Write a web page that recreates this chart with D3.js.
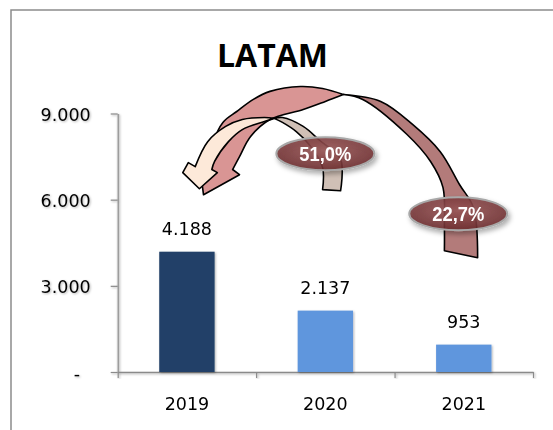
<!DOCTYPE html>
<html><head><meta charset="utf-8">
<script src="https://cdn.jsdelivr.net/npm/d3@7"></script>
<style>html,body{margin:0;padding:0;background:#fff;} svg{display:block;}</style>
</head><body>
<svg id="chart" width="553" height="430"></svg>
<script>
// ---------- data ----------
const chartTitle = "LATAM";
const years = ["2019", "2020", "2021"];
const values = [4188, 2137, 953];
const barColors = ["#213f68", "#5f96dd", "#5f96dd"];
const yTicks = [0, 3000, 6000, 9000];
const growthLabels = ["51,0%", "22,7%"];
// label anchors in data space: [category index, value]
const growthAnchors = [[1.0, 7600], [1.96, 5510]];

// curved arrow outlines in data space [category index, value]
const pinkTwist = [1.13, 9660];
const pinkLeft = [
  {smooth: true, pts: [pinkTwist, [0.98, 9870], [0.82, 9940], [0.60, 9770], [0.48, 9490], [0.36, 9070], [0.26, 8690], [0.19, 7990], [0.17, 7470]]},
  {smooth: false, pts: [[0.17, 7470], [0.09, 7290], [0.12, 6170], [0.38, 6870], [0.33, 7050]]},
  {smooth: true, pts: [[0.33, 7050], [0.38, 7500], [0.46, 8200], [0.60, 8790], [0.84, 9140], [1.00, 9420], pinkTwist]}
];
const pinkRight = [
  {smooth: true, pts: [pinkTwist, [1.40, 9420], [1.63, 8620], [1.83, 7670], [1.97, 6520], [2.07, 5720], [2.10, 3980]]},
  {smooth: false, pts: [[2.10, 3980], [1.86, 4220]]},
  {smooth: true, pts: [[1.86, 4220], [1.86, 5130], [1.85, 6420], [1.76, 7330], [1.59, 8270], [1.27, 9490], pinkTwist]}
];
const beigeTwist = [0.63, 8830];
const beigeLeft = [
  {smooth: true, pts: [beigeTwist, [0.56, 8860], [0.40, 8790], [0.28, 8550], [0.15, 8020], [0.06, 7150]]},
  {smooth: false, pts: [[0.06, 7150], [0.01, 7290], [-0.03, 6940], [0.09, 6380], [0.22, 6940], [0.18, 7050]]},
  {smooth: true, pts: [[0.18, 7050], [0.20, 7330], [0.30, 8020], [0.40, 8440], [0.56, 8720], beigeTwist]}
];
const beigeRight = [
  {smooth: true, pts: [beigeTwist, [0.69, 8860], [0.84, 8550], [0.96, 8060], [1.11, 7400], [1.11, 6310]]},
  {smooth: false, pts: [[1.11, 6310], [0.98, 6350]]},
  {smooth: true, pts: [[0.98, 6350], [0.98, 7120], [0.89, 7880], [0.79, 8370], [0.69, 8690], beigeTwist]}
];

// ---------- layout ----------
const svg = d3.select("#chart");
const plotLeft = 117.7, plotRight = 533, plotTop = 113.5, plotBottom = 372;
const axisFont = "'DejaVu Sans', sans-serif";

const x = d3.scaleBand().domain(years).range([plotLeft, plotRight]).paddingInner(0.6).paddingOuter(0.3);
const xi = d3.scaleLinear().domain([-0.5, 2.5]).range([plotLeft, plotRight]);
const y = d3.scaleLinear().domain([0, 9000]).range([plotBottom, plotTop]);

const defs = svg.append("defs");
const shadow = defs.append("filter").attr("id", "shadow").attr("x", "-30%").attr("y", "-30%").attr("width", "160%").attr("height", "160%");
shadow.append("feDropShadow").attr("dx", 2).attr("dy", 3).attr("stdDeviation", 2.5).attr("flood-color", "#000").attr("flood-opacity", 0.35);
const soft = defs.append("filter").attr("id", "soft").attr("x", "-10%").attr("y", "-10%").attr("width", "120%").attr("height", "120%");
soft.append("feDropShadow").attr("dx", 1).attr("dy", 1).attr("stdDeviation", 1).attr("flood-color", "#000").attr("flood-opacity", 0.3);
const rg = defs.append("radialGradient").attr("id", "lblGrad").attr("cx", "50%").attr("cy", "40%").attr("r", "60%");
rg.append("stop").attr("offset", "0%").attr("stop-color", "#9a5858");
rg.append("stop").attr("offset", "100%").attr("stop-color", "#6c2c2e");

// frame
svg.append("path").attr("d", d3.line()([[11, 430], [11, 10], [553, 10]]))
  .attr("fill", "none").attr("stroke", "#8c8c8c").attr("stroke-width", 1.5);

// title
svg.append("text").attr("x", 272.5).attr("y", 67).attr("text-anchor", "middle")
  .attr("font-family", "'Open Sans', sans-serif").attr("font-weight", 700).attr("font-size", 32)
  .attr("fill", "#000").text(chartTitle);

// y axis
const fmt = d => d === 0 ? "-" : d3.format(",")(d).replace(/,/g, ".");
const gy = svg.append("g").attr("transform", `translate(${plotLeft},0)`).attr("filter", "url(#soft)")
  .call(d3.axisLeft(y).tickValues(yTicks).tickSize(7).tickSizeOuter(0).tickPadding(20).tickFormat(fmt));
gy.select(".domain").attr("stroke", "#8a8a8a").attr("stroke-width", 1.5);
gy.selectAll(".tick line").attr("stroke", "#8a8a8a").attr("stroke-width", 1.2);
gy.selectAll(".tick text").attr("font-family", axisFont).attr("font-size", 17.5).attr("fill", "#000")
  .attr("dy", null).attr("y", 7)
  .attr("x", d => d === 0 ? -37.7 : -27);

// x axis
const gx = svg.append("g").attr("transform", `translate(0,${plotBottom})`).attr("filter", "url(#soft)")
  .call(d3.axisBottom(xi).tickValues([-0.5, 0.5, 1.5, 2.5]).tickSize(6).tickSizeOuter(0).tickFormat(""));
gx.select(".domain").attr("stroke", "#8a8a8a").attr("stroke-width", 1.5);
gx.selectAll(".tick line").attr("stroke", "#8a8a8a").attr("stroke-width", 1.2);
svg.append("g").selectAll("text").data(years).join("text")
  .attr("x", d => x(d) + x.bandwidth() / 2).attr("y", 410)
  .attr("text-anchor", "middle").attr("font-family", axisFont).attr("font-size", 17.5).attr("fill", "#000")
  .text(d => d);

// bars
svg.append("g").attr("filter", "url(#soft)").selectAll("rect").data(values).join("rect")
  .attr("x", (d, i) => x(years[i])).attr("width", x.bandwidth())
  .attr("y", d => y(d)).attr("height", d => y(0) - y(d))
  .attr("fill", (d, i) => barColors[i]);

// bar value labels
svg.append("g").selectAll("text").data(values).join("text")
  .attr("x", (d, i) => x(years[i]) + x.bandwidth() / 2).attr("y", d => y(d) - 17)
  .attr("text-anchor", "middle").attr("font-family", axisFont).attr("font-size", 17.5).attr("fill", "#000")
  .text(d => d3.format(",")(d).replace(/,/g, "."));

// arrows
const smoothLine = d3.line().x(p => xi(p[0])).y(p => y(p[1])).curve(d3.curveCatmullRom.alpha(0.5));
const straightLine = d3.line().x(p => xi(p[0])).y(p => y(p[1]));
function buildPath(parts) {
  let d = "";
  parts.forEach((p, i) => {
    let s = (p.smooth ? smoothLine : straightLine)(p.pts);
    if (i > 0) s = "L" + s.slice(1);
    d += s;
  });
  return d + "Z";
}
const arrowG = svg.append("g").attr("stroke", "#000").attr("stroke-width", 1.6).attr("stroke-linejoin", "round");
arrowG.append("path").attr("d", buildPath(pinkRight)).attr("fill", "#b37b7a");
arrowG.append("path").attr("d", buildPath(pinkLeft)).attr("fill", "#d99594");
arrowG.append("path").attr("d", buildPath(beigeRight)).attr("fill", "#d0c0b6");
arrowG.append("path").attr("d", buildPath(beigeLeft)).attr("fill", "#fde9d9");

// growth labels
const lg = svg.append("g").selectAll("g").data(growthLabels).join("g")
  .attr("transform", (d, i) => `translate(${xi(growthAnchors[i][0])},${y(growthAnchors[i][1])})`);
lg.append("ellipse").attr("rx", 49).attr("ry", 16.5)
  .attr("fill", "url(#lblGrad)").attr("fill-opacity", 0.88)
  .attr("stroke", "#a8a8a8").attr("stroke-width", 2).attr("filter", "url(#shadow)");
lg.append("text").attr("y", 7.5).attr("text-anchor", "middle")
  .attr("font-family", "'Liberation Sans', Arial, sans-serif").attr("font-weight", 700).attr("font-size", 21)
  .attr("textLength", 52).attr("lengthAdjust", "spacingAndGlyphs")
  .attr("fill", "#fff").text(d => d);
</script>
</body></html>
